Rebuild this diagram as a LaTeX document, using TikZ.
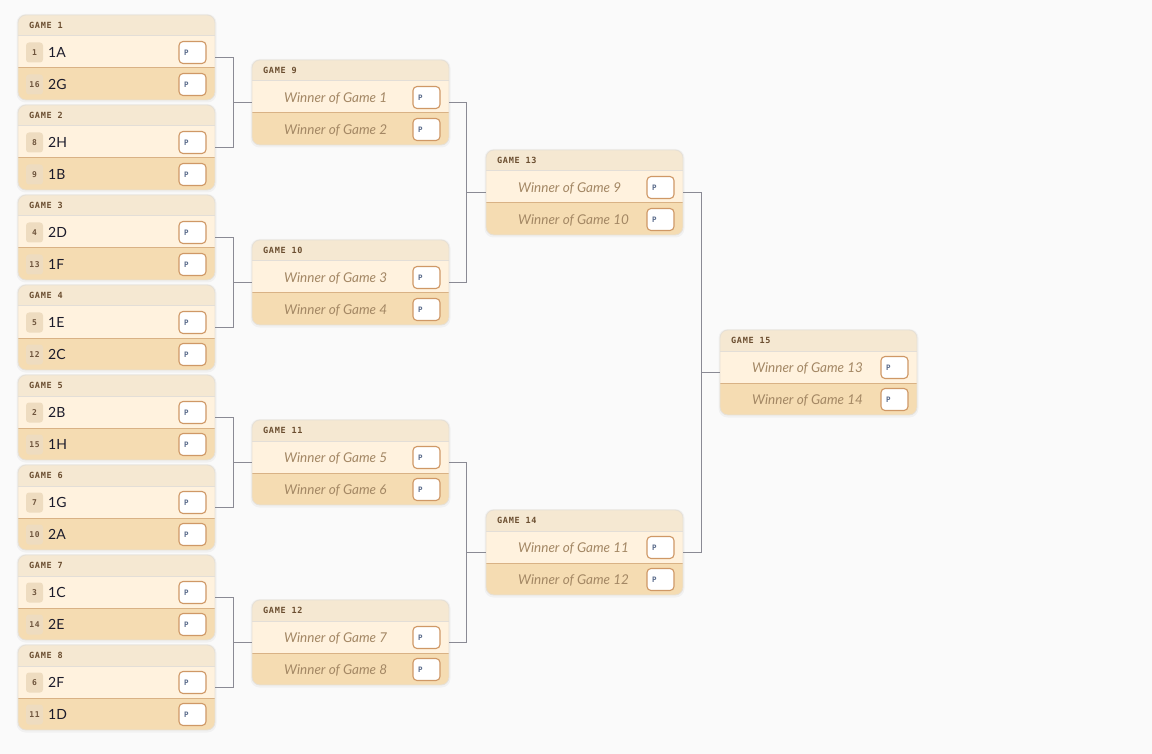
\documentclass[tikz,border=0pt]{standalone}
\usepackage{fontspec}
\newfontfamily\teamfont{Lato}
\newfontfamily\bmono[LetterSpace=8]{DejaVu Sans Mono}
\newfontfamily\pmono{DejaVu Sans Mono}
\definecolor{bgc}{HTML}{FAFAFA}
\definecolor{hdrc}{HTML}{F5E8D2}
\definecolor{rowa}{HTML}{FFF2DE}
\definecolor{rowb}{HTML}{F5DCB2}
\definecolor{diva}{HTML}{E3DED7}
\definecolor{divb}{HTML}{D9B285}
\definecolor{borderc}{HTML}{E6E0D6}
\definecolor{badgec}{HTML}{EEDCC0}
\definecolor{seedc}{HTML}{6E543C}
\definecolor{hdrtext}{HTML}{6B4E30}
\definecolor{teamc}{HTML}{1B1B2B}
\definecolor{winc}{HTML}{A38764}
\definecolor{pborder}{HTML}{CF9866}
\definecolor{ptextc}{HTML}{5A6C8C}
\definecolor{connc}{HTML}{8A8A94}
\tikzset{
  box/.style={minimum width=197pt, minimum height=85pt, inner sep=0pt, draw=none},
  badge/.style={fill=badgec, rounded corners=3pt, minimum width=17pt, minimum height=20pt, inner sep=0pt, font=\bmono\bfseries\fontsize{8}{9}\selectfont, text=seedc},
  pbx/.style={draw=pborder, fill=white, rounded corners=4pt, minimum width=27pt, minimum height=22pt, inner sep=0pt, line width=1.1pt},
  ptext/.style={inner sep=0pt, font=\pmono\bfseries\fontsize{7.5}{8}\selectfont, text=ptextc},
  team/.style={inner sep=0pt, font=\teamfont\fontsize{14}{15}\selectfont, text=teamc},
  win/.style={inner sep=0pt, font=\teamfont\itshape\fontsize{13.5}{14}\selectfont, text=winc},
  hdr/.style={inner sep=0pt, font=\bmono\bfseries\fontsize{8.5}{9}\selectfont, text=hdrtext},
  conn/.style={draw=connc, line width=0.9pt},
}
\newcommand\pboxmark{\node[pbx] at (174.5,\rowy) {};\node[ptext, anchor=base west] at (166,\rowy+3) {P};}
\newcommand\seedrow[2]{\node[badge] at (16.5,\rowy) {#1};\node[team, anchor=base west] at (30,\rowy+5) {#2};\pboxmark}
\newcommand\winrow[1]{\node[win, anchor=base west] at (32,\rowy+4.8) {Winner of Game #1};\pboxmark}
\newcommand\gbox[6]{%
\begin{scope}[shift={(#2,#3)}]
  \fill[black, opacity=0.035, rounded corners=9pt] (-1.5,-1) rectangle (198.5,87.5);
  \begin{scope}
    \clip[rounded corners=8pt] (0,0) rectangle (197,85);
    \fill[hdrc] (0,0) rectangle (197,21);
    \fill[rowa] (0,21) rectangle (197,53);
    \fill[rowb] (0,53) rectangle (197,85);
  \end{scope}
  \draw[diva, line width=1pt] (0,21) -- (197,21);
  \draw[divb, line width=1pt] (0,53) -- (197,53);
  \draw[borderc, line width=0.8pt, rounded corners=8pt] (0,0) rectangle (197,85);
  \node[hdr, anchor=base west] at (11,13.2) {GAME #4};
  \def\rowy{37.5}#5
  \def\rowy{69.5}#6
  \node[box] (#1) at (98.5,42.5) {};
\end{scope}}
\begin{document}
\begin{tikzpicture}[x=1pt,y=-1pt]
\fill[bgc] (0,0) rectangle (1152,754);
\useasboundingbox (0,0) rectangle (1152,754);
% round 1
\gbox{g1}{18}{15}{1}{\seedrow{1}{1A}}{\seedrow{16}{2G}}
\gbox{g2}{18}{105}{2}{\seedrow{8}{2H}}{\seedrow{9}{1B}}
\gbox{g3}{18}{195}{3}{\seedrow{4}{2D}}{\seedrow{13}{1F}}
\gbox{g4}{18}{285}{4}{\seedrow{5}{1E}}{\seedrow{12}{2C}}
\gbox{g5}{18}{375}{5}{\seedrow{2}{2B}}{\seedrow{15}{1H}}
\gbox{g6}{18}{465}{6}{\seedrow{7}{1G}}{\seedrow{10}{2A}}
\gbox{g7}{18}{555}{7}{\seedrow{3}{1C}}{\seedrow{14}{2E}}
\gbox{g8}{18}{645}{8}{\seedrow{6}{2F}}{\seedrow{11}{1D}}
% round 2
\gbox{g9}{252}{60}{9}{\winrow{1}}{\winrow{2}}
\gbox{g10}{252}{240}{10}{\winrow{3}}{\winrow{4}}
\gbox{g11}{252}{420}{11}{\winrow{5}}{\winrow{6}}
\gbox{g12}{252}{600}{12}{\winrow{7}}{\winrow{8}}
% round 3
\gbox{g13}{486}{150}{13}{\winrow{9}}{\winrow{10}}
\gbox{g14}{486}{510}{14}{\winrow{11}}{\winrow{12}}
% round 4
\gbox{g15}{720}{330}{15}{\winrow{13}}{\winrow{14}}
% connectors
\foreach \a/\b/\c in {g1/g2/g9, g3/g4/g10, g5/g6/g11, g7/g8/g12}{
  \draw[conn] (\a.east) -- ++(18,0) |- (\b.east);
  \draw[conn] (\c.west) -- ++(-19,0);
}
\foreach \a/\b/\c in {g9/g10/g13, g11/g12/g14}{
  \draw[conn] (\a.east) -- ++(17.5,0) |- (\b.east);
  \draw[conn] (\c.west) -- ++(-18.5,0);
}
\draw[conn] (g13.east) -- ++(18,0) |- (g14.east);
\draw[conn] (g15.west) -- ++(-19,0);
\end{tikzpicture}
\end{document}
